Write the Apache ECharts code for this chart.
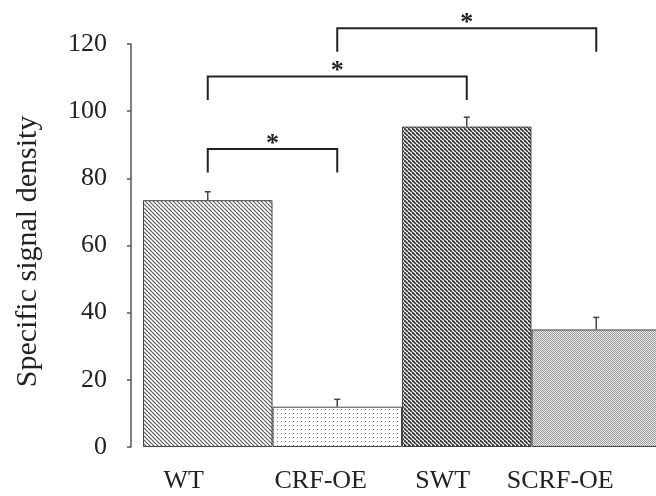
<!DOCTYPE html>
<html>
<head>
<meta charset="utf-8">
<script src="https://cdn.jsdelivr.net/npm/echarts@6/dist/echarts.min.js"></script>
<style>
  html, body { margin: 0; padding: 0; background: #ffffff; }
  #chart { width: 656px; height: 496px; }
</style>
</head>
<body>
<div id="chart"></div>
<script>
// Groups and measured means with their error margins
const categories = ['WT', 'CRF-OE', 'SWT', 'SCRF-OE'];
const signalDensity = [73.5, 12.0, 95.4, 35.0];
const errorMargins = [2.5, 2.2, 2.8, 3.6];

// Value axis range
const yMin = 0;
const yMax = 120;
const yStep = 20;

// Pairwise comparisons: group indices, bracket height and mark
const comparisonPairs = [[0, 1], [0, 2], [1, 3]];
const comparisonLevels = [88.7, 110.3, 124.7];
const comparisonMarks = ['*', '*', '*'];

const SERIF = '"Liberation Serif", "DejaVu Serif", serif';

// ---- fill patterns built on small tiles ----
function tile(w, h, draw) {
  const c = document.createElement('canvas');
  c.width = w; c.height = h;
  const ctx = c.getContext('2d');
  ctx.fillStyle = '#ffffff';
  ctx.fillRect(0, 0, w, h);
  draw(ctx, w, h);
  return { image: c, repeat: 'repeat' };
}
function diagonal(p, lw, col) {
  return tile(p, p, (ctx) => {
    ctx.strokeStyle = col;
    ctx.lineWidth = lw;
    for (let k = -1; k <= 1; k++) {
      ctx.beginPath();
      ctx.moveTo(k * p, 0);
      ctx.lineTo(k * p + p, p);
      ctx.stroke();
    }
  });
}
const fillWT = diagonal(4, 1.2, '#5a5a5a');
const fillCRF = tile(4, 4, (ctx) => {
  ctx.fillStyle = '#7a7a7a';
  ctx.fillRect(1, 1, 1, 1);
});
const fillSWT = diagonal(4, 1.8, '#3a3a3a');
const fillSCRF = tile(2, 2, (ctx) => {
  ctx.fillStyle = '#eaeaea';
  ctx.fillRect(0, 0, 2, 2);
  ctx.fillStyle = '#9a9a9a';
  ctx.fillRect(0, 0, 1, 1);
  ctx.fillRect(1, 1, 1, 1);
});
const fills = [fillWT, fillCRF, fillSWT, fillSCRF];

const chart = echarts.init(document.getElementById('chart'), null, { renderer: 'canvas' });

const option = {
  animation: false,
  backgroundColor: '#ffffff',
  grid: {
    left: 143, top: 44, width: 518, height: 403,
    containLabel: false,
    outerBoundsMode: 'none'
  },
  xAxis: {
    type: 'category',
    data: categories,
    axisLine: { show: false },
    axisTick: { show: false },
    axisLabel: {
      margin: 21,
      formatter: (v, i) => '{c' + i + '|' + v + '}',
      rich: {
        c0: { fontFamily: SERIF, fontSize: 26, color: '#222', padding: [0, 48, 0, 0] },
        c1: { fontFamily: SERIF, fontSize: 26, color: '#222', padding: [0, 33, 0, 0] },
        c2: { fontFamily: SERIF, fontSize: 26, color: '#222', padding: [0, 48, 0, 0] },
        c3: { fontFamily: SERIF, fontSize: 26, color: '#222', padding: [0, 72, 0, 0] }
      }
    }
  },
  yAxis: {
    type: 'value',
    min: yMin,
    max: yMax,
    interval: yStep,
    offset: 12,
    name: 'Specific signal density',
    nameLocation: 'middle',
    nameRotate: 90,
    nameGap: 88,
    nameTextStyle: {
      fontFamily: SERIF, fontSize: 30, color: '#222',
      padding: [0, 12, 0, 0]
    },
    axisLine: { show: true, lineStyle: { color: '#555', width: 1.5 } },
    axisTick: { show: true, inside: false, length: 4, lineStyle: { color: '#555', width: 1.5 } },
    splitLine: { show: false },
    axisLabel: { margin: 24, fontFamily: SERIF, fontSize: 26, color: '#222' }
  },
  series: [
    {
      type: 'bar',
      barWidth: '100%',
      barCategoryGap: '0%',
      data: signalDensity.map((v, i) => ({
        value: v,
        itemStyle: { color: fills[i], borderColor: '#444', borderWidth: 1 }
      })),
      z: 2
    },
    {
      // error whiskers above each bar
      type: 'custom',
      data: signalDensity.map((v, i) => [i, v, v + errorMargins[i]]),
      encode: { x: 0, y: [1, 2] },
      z: 3,
      renderItem: (params, api) => {
        const base = api.coord([api.value(0), api.value(1)]);
        const top = api.coord([api.value(0), api.value(2)]);
        const st = { stroke: '#444', lineWidth: 1.5 };
        return {
          type: 'group',
          children: [
            { type: 'line', shape: { x1: base[0], y1: base[1], x2: top[0], y2: top[1] }, style: st },
            { type: 'line', shape: { x1: top[0] - 3, y1: top[1], x2: top[0] + 3, y2: top[1] }, style: st }
          ]
        };
      }
    },
    {
      // significance brackets with their marks
      type: 'custom',
      clip: false,
      data: comparisonPairs.map((p, i) => [p[0], p[1], comparisonLevels[i], i]),
      encode: { x: [0, 1], y: 2 },
      z: 4,
      renderItem: (params, api) => {
        const a = api.value(0), b = api.value(1), lvl = api.value(2);
        const drop = 7;
        const pL = api.coord([a, lvl]);
        const pR = api.coord([b, lvl]);
        const fL = api.coord([a, lvl - drop]);
        const fR = api.coord([b, lvl - drop]);
        return {
          type: 'group',
          children: [
            {
              type: 'polyline',
              shape: { points: [fL, pL, pR, fR] },
              style: { stroke: '#222', lineWidth: 2, fill: null }
            },
            {
              type: 'text',
              style: {
                text: comparisonMarks[api.value(3)],
                x: (pL[0] + pR[0]) / 2,
                y: pL[1] - 5,
                align: 'center',
                verticalAlign: 'middle',
                font: 'bold 26px ' + SERIF,
                fill: '#222'
              }
            }
          ]
        };
      }
    }
  ]
};

chart.setOption(option);
</script>
</body>
</html>
